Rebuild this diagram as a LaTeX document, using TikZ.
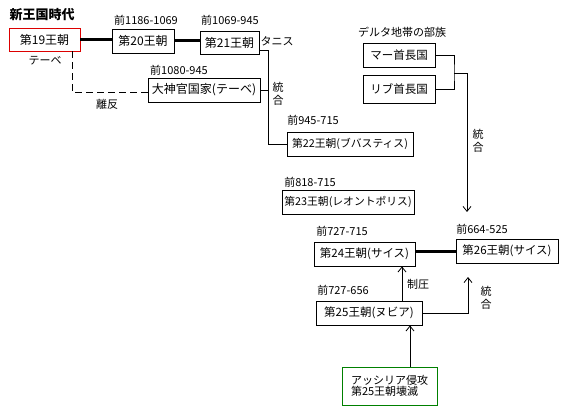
\documentclass[tikz,border=0pt]{standalone}
\usepackage{fontspec}
\setmainfont{Noto Sans CJK JP}
\usetikzlibrary{arrows.meta}
\definecolor{boxred}{RGB}{220,0,0}
\definecolor{boxgreen}{RGB}{0,128,0}
\tikzset{
  box/.style={draw, line width=0.8pt, inner sep=0pt, minimum height=24pt, font=\fontsize{11.5}{12}\selectfont},
  bigbox/.style={box, font=\fontsize{12}{13}\selectfont},
  widebox/.style={box, font=\fontsize{10.8}{12}\selectfont},
  lbl/.style={inner sep=0pt, font=\fontsize{11}{12}\selectfont},
  vlbl/.style={lbl, align=center, font=\fontsize{11}{12.5}\selectfont},
  thin/.style={line width=0.8pt},
  thickl/.style={line width=3pt},
  arr/.style={line width=0.8pt, -{Straight Barb[length=5pt,width=8pt,line width=0.8pt]}},
}
\begin{document}
\begin{tikzpicture}[x=1pt,y=-1pt]
\useasboundingbox (0,0) rectangle (569,419);
% titles and labels
\node[lbl, font=\fontsize{13}{14}\selectfont\bfseries] (title) at (42,15) {新王国時代};
\node[bigbox, draw=boxred, minimum width=71pt, minimum height=23pt] (n19) at (44.5,39.5) {第19王朝};
\node[lbl] (theb) at (45,61) {テーベ};
\node[bigbox, minimum width=62pt] (n20) at (143,41) {第20王朝};
\node[lbl] (l20) at (146,20) {前1186-1069};
\node[bigbox, minimum width=59pt, minimum height=23pt] (n21) at (229.5,42.5) {第21王朝};
\node[lbl] (l21) at (230,20) {前1069-945};
\node[lbl] (tanis) at (277,41) {タニス};
\node[bigbox, minimum width=112pt] (taishin) at (204,90) {大神官国家(テーベ)};
\node[lbl] (ltai) at (179,70) {前1080-945};
\node[lbl] (rihan) at (107,104) {離反};
\node[vlbl] (tougou1) at (278,94) {統\\合};
\node[lbl] (delta) at (402,32) {デルタ地帯の部族};
\node[box, minimum width=72pt] (ma) at (399,55) {マー首長国};
\node[box, minimum width=72pt, minimum height=28pt] (ribu) at (399,89) {リブ首長国};
\node[vlbl] (tougou2) at (478,141) {統\\合};
\node[widebox, minimum width=126pt] (n22) at (350,144) {第22王朝(ブバスティス)};
\node[lbl] (l22) at (313,120) {前945-715};
\node[widebox, minimum width=132pt] (n23) at (348,202) {第23王朝(レオントポリス)};
\node[lbl] (l23) at (310,182) {前818-715};
\node[box, minimum width=101pt] (n24) at (364.5,254) {第24王朝(サイス)};
\node[lbl] (l24) at (342,231) {前727-715};
\node[box, minimum width=102pt] (n26) at (507,251) {第26王朝(サイス)};
\node[lbl] (l26) at (482,229) {前664-525};
\node[lbl] (seiatsu) at (418,284) {制圧};
\node[box, minimum width=106pt] (n25) at (369,313) {第25王朝(ヌビア)};
\node[lbl] (l25) at (343,290) {前727-656};
\node[vlbl] (tougou3) at (486,298) {統\\合};
\node[box, draw=boxgreen, minimum width=95pt, minimum height=38pt, align=left, font=\fontsize{11}{11.5}\selectfont] (assy) at (389.5,386) {アッシリア侵攻\\第25王朝壊滅};
% coordinates
\coordinate (jA) at (268,50);
\coordinate (dsh) at (72,92);
\coordinate (jD) at (454,73);
\coordinate (aD) at (467,212);
\coordinate (c1) at (402,0);
\coordinate (aT) at (468,277);
\coordinate (c2) at (410,0);
% connectors
\draw[thickl] (n19.east) -- (n20.west |- n19.east);
\draw[thickl] (n20.east) -- (n21.west |- n20.east);
\draw[thin, dashed, dash pattern=on 7pt off 4pt] (n19.south -| dsh) -- (dsh) -- (taishin.west |- dsh);
\draw[thin] (n21.east |- jA) -- (jA) |- (n22.west);
\draw[thin] (taishin.east) -- (taishin.east -| jA);
\draw[thin] (ma.east) -| (jD) |- (ribu.east);
\draw[arr] (jD) -| (aD);
\draw[thickl] (n24.east |- n26.west) -- (n26.west);
\draw[arr] (n25.north -| c1) -- (n24.south -| c1);
\draw[arr] (n25.east) -| (aT);
\draw[arr] (assy.north -| c2) -- (n25.south -| c2);
\end{tikzpicture}
\end{document}
